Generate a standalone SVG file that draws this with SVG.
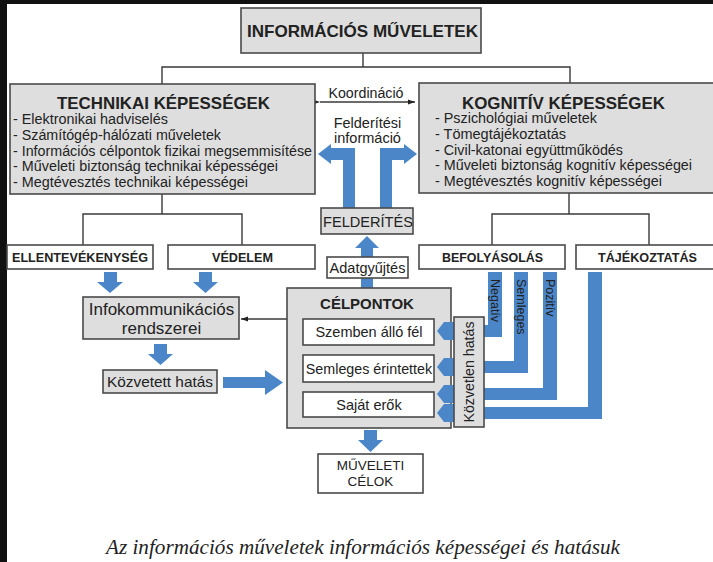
<svg xmlns="http://www.w3.org/2000/svg" width="713" height="562" viewBox="0 0 713 562">
<defs>
<style>
.box{fill:#dedede;stroke:#4a4a4a;stroke-width:1.6}
.wbox{fill:#ffffff;stroke:#4a4a4a;stroke-width:1.6}
.ln{fill:none;stroke:#3a3a3a;stroke-width:1.4}
.blue{fill:#4a86c8}
.t{font-family:"Liberation Sans",Arial,sans-serif;fill:#222}
.b{font-weight:bold}
.c{text-anchor:middle}
</style>
<marker id="ah" markerWidth="8" markerHeight="8" refX="7" refY="4" orient="auto" markerUnits="userSpaceOnUse">
<path d="M0,1.5 L7,4 L0,6.5 Z" fill="#222"/>
</marker>
</defs>
<rect x="0" y="0" width="713" height="562" fill="#ffffff"/>
<rect x="0" y="0" width="7" height="562" fill="#111"/>
<rect x="0" y="0" width="713" height="4" fill="#111"/>

<g id="connectors">
<path class="ln" d="M363,53 V67 M162,84 V67 H570 V83"/>
<path class="ln" d="M162,194 V214 M83,245 V214 H242 V245"/>
<path class="ln" d="M569,193 V214 M492,245 V214 H649 V245"/>
<line class="ln" x1="320" y1="102" x2="415" y2="102" marker-start="url(#ah)" marker-end="url(#ah)"/>
<line class="ln" x1="287" y1="319" x2="241" y2="319" marker-end="url(#ah)"/>
<path class="blue" d="M355,208 V148 H331 V144 L318,154 L331,164 V160 H343 V208 Z"/>
<path class="blue" d="M380,208 V148 H404 V144 L417,154 L404,164 V160 H392 V208 Z"/>
<path class="blue" d="M361,257 V248 H355 L367,236 L379,248 H373 V257 Z"/>
<rect class="blue" x="361" y="278" width="12" height="10"/>
<path class="blue" d="M104,272 H117 V282 H123 L110,293 L97,282 H104 Z"/>
<path class="blue" d="M199,272 H212 V282 H218 L205.5,293 L193,282 H199 Z"/>
<path class="blue" d="M154,344 H167 V354 H173 L160.5,365 L148,354 H154 Z"/>
<path class="blue" d="M223,377 H265 V370 L283,382.5 L265,395 V388 H223 Z"/>
<path class="blue" d="M364,430 H377 V440 H383 L370.5,452 L358,440 H364 Z"/>
<path class="blue" d="M488,272 H502 V337 H452 V325 H488 Z"/>
<path class="blue" d="M514,272 H528 V373 H452 V361 H514 Z"/>
<path class="blue" d="M543,272 H557 V400 H452 V388 H543 Z"/>
<path class="blue" d="M588,272 H602 V419 H452 V407 H588 Z"/>
</g>

<g id="n-informacios">
<rect class="box" x="241" y="8" width="240" height="45"/>
<text class="t b c" x="362.5" y="37" font-size="16.5" textLength="231" lengthAdjust="spacingAndGlyphs">INFORMÁCIÓS MŰVELETEK</text>
</g>

<g id="n-technikai">
<rect class="box" x="10" y="84" width="305" height="110"/>
<text class="t b c" x="163.5" y="108.5" font-size="16.5" textLength="213" lengthAdjust="spacingAndGlyphs">TECHNIKAI KÉPESSÉGEK</text>
<g class="t" font-size="14">
<text x="13" y="124" textLength="155" lengthAdjust="spacingAndGlyphs">- Elektronikai hadviselés</text>
<text x="13" y="140" textLength="208" lengthAdjust="spacingAndGlyphs">- Számítógép-hálózati műveletek</text>
<text x="13" y="156" textLength="299" lengthAdjust="spacingAndGlyphs">- Információs célpontok fizikai megsemmisítése</text>
<text x="13" y="171" textLength="265" lengthAdjust="spacingAndGlyphs">- Műveleti biztonság technikai képességei</text>
<text x="13" y="187" textLength="235" lengthAdjust="spacingAndGlyphs">- Megtévesztés technikai képességei</text>
</g>
</g>

<g id="n-kognitiv">
<rect class="box" x="419" y="83" width="300" height="110"/>
<text class="t b c" x="563.5" y="108.5" font-size="16.5" textLength="203" lengthAdjust="spacingAndGlyphs">KOGNITÍV KÉPESSÉGEK</text>
<g class="t" font-size="14">
<text x="435" y="123" textLength="162" lengthAdjust="spacingAndGlyphs">- Pszichológiai műveletek</text>
<text x="435" y="139" textLength="131" lengthAdjust="spacingAndGlyphs">- Tömegtájékoztatás</text>
<text x="435" y="155" textLength="188" lengthAdjust="spacingAndGlyphs">- Civil-katonai együttműködés</text>
<text x="435" y="170" textLength="257" lengthAdjust="spacingAndGlyphs">- Műveleti biztonság kognitív képességei</text>
<text x="435" y="186" textLength="227" lengthAdjust="spacingAndGlyphs">- Megtévesztés kognitív képességei</text>
</g>
</g>

<g id="n-koordinacio">
<text class="t c" x="366" y="98" font-size="14" textLength="75" lengthAdjust="spacingAndGlyphs">Koordináció</text>
</g>
<g id="n-felderitesi-info">
<text class="t c" x="367.5" y="128" font-size="14.5">Felderítési</text>
<text class="t c" x="367.5" y="143" font-size="14.5">információ</text>
</g>

<g id="n-felderites">
<rect class="box" x="321" y="208" width="92" height="26"/>
<text class="t c" x="368" y="226.5" font-size="14.5" textLength="90" lengthAdjust="spacingAndGlyphs">FELDERÍTÉS</text>
</g>

<g id="n-adatgyujtes">
<rect class="wbox" x="327" y="257" width="81" height="21"/>
<text class="t c" x="367.5" y="272.5" font-size="14.5">Adatgyűjtés</text>
</g>

<g id="n-ellentevekenyseg">
<rect class="wbox" x="7" y="245" width="146" height="24"/>
<text class="t b c" x="80" y="261.5" font-size="12.5" textLength="136" lengthAdjust="spacingAndGlyphs">ELLENTEVÉKENYSÉG</text>
</g>
<g id="n-vedelem">
<rect class="wbox" x="168" y="245" width="147" height="24"/>
<text class="t b c" x="242.5" y="261.5" font-size="12.5" textLength="61" lengthAdjust="spacingAndGlyphs">VÉDELEM</text>
</g>
<g id="n-befolyasolas">
<rect class="wbox" x="419" y="245" width="146" height="24"/>
<text class="t b c" x="492.5" y="261.5" font-size="12.5" textLength="101" lengthAdjust="spacingAndGlyphs">BEFOLYÁSOLÁS</text>
</g>
<g id="n-tajekoztatas">
<rect class="wbox" x="576" y="245" width="145" height="24"/>
<text class="t b c" x="647.5" y="261.5" font-size="12.5" textLength="99" lengthAdjust="spacingAndGlyphs">TÁJÉKOZTATÁS</text>
</g>

<g id="n-infokomm">
<rect class="box" x="83" y="297" width="156" height="42"/>
<text class="t c" x="161.5" y="314.5" font-size="17">Infokommunikációs</text>
<text class="t c" x="161.5" y="333.5" font-size="17">rendszerei</text>
</g>

<g id="n-kozvetett">
<rect class="box" x="103" y="370" width="114" height="23"/>
<text class="t c" x="160" y="387" font-size="15" textLength="106" lengthAdjust="spacingAndGlyphs">Közvetett hatás</text>
</g>

<g id="n-celpontok">
<rect class="box" x="287" y="288" width="164" height="140"/>
<text class="t b c" x="367" y="308.5" font-size="15">CÉLPONTOK</text>
<rect class="wbox" x="303" y="319" width="131" height="26"/>
<text class="t c" x="369" y="337" font-size="14.5">Szemben álló fél</text>
<rect class="wbox" x="303" y="355" width="131" height="27"/>
<text class="t c" x="369" y="373.5" font-size="14.3">Semleges érintettek</text>
<rect class="wbox" x="303" y="392" width="131" height="25"/>
<text class="t c" x="369" y="409.5" font-size="14.5">Saját erők</text>
</g>

<g id="n-bar-labels" class="t" font-size="12.5">
<text transform="translate(491,279) rotate(90)">Negatív</text>
<text transform="translate(517,279) rotate(90)">Semleges</text>
<text transform="translate(546,279) rotate(90)">Pozitív</text>
</g>

<g id="n-arrowheads">
<path class="blue" d="M437,331 L444,322 H454 V340 H444 Z"/>
<path class="blue" d="M437,367 L444,358 H454 V376 H444 Z"/>
<path class="blue" d="M437,394 L444,385 H454 V403 H444 Z"/>
<path class="blue" d="M437,413 L444,404 H454 V422 H444 Z"/>
</g>

<g id="n-kozvetlen">
<rect class="box" x="454" y="317" width="30" height="110"/>
<text class="t c" transform="translate(474,372) rotate(-90)" font-size="14" textLength="101" lengthAdjust="spacingAndGlyphs">Közvetlen hatás</text>
</g>

<g id="n-muveleti-celok">
<rect class="wbox" x="318" y="454" width="105" height="39"/>
<text class="t c" x="370.5" y="470" font-size="13.5" fill="#333">MŰVELETI</text>
<text class="t c" x="370.5" y="486" font-size="13.5" fill="#333">CÉLOK</text>
</g>

<g id="caption">
<text x="363" y="554" text-anchor="middle" font-family="'Liberation Serif','Times New Roman',serif" font-style="italic" font-size="20" textLength="514" lengthAdjust="spacingAndGlyphs" fill="#222">Az információs műveletek információs képességei és hatásuk</text>
</g>
</svg>
